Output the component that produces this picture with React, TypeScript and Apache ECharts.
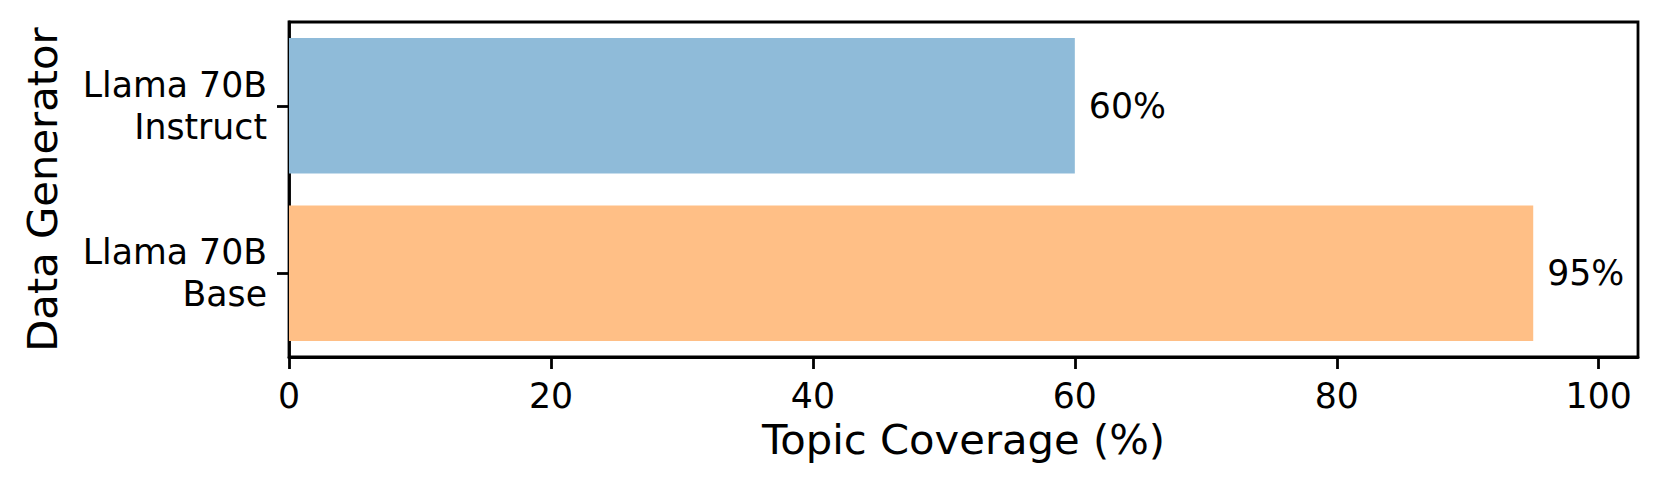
import React, { useEffect, useRef } from "react";
import * as echarts from "echarts";

const categories = ["Llama 70B\nInstruct", "Llama 70B\nBase"];
const coverage = [60, 95];
const barColors = ["#8fbbd9", "#ffbf86"];
const xTicks = [0, 20, 40, 60, 80, 100];
const xLabel = "Topic Coverage (%)";
const yLabel = "Data Generator";

export default function App() {
  const ref = useRef<HTMLDivElement>(null);
  useEffect(() => {
    if (!ref.current) return;
    const chart = echarts.init(ref.current, null, { renderer: "svg" });
    const font = "DejaVu Sans";
    chart.setOption({
      animation: false,
      backgroundColor: "#ffffff",
      textStyle: { fontFamily: font },
      grid: {
        left: 289,
        top: 22,
        right: 23,
        bottom: 132,
        show: true,
        borderColor: "#000",
        borderWidth: 2.8,
        backgroundColor: "transparent",
      },
      xAxis: {
        type: "value",
        min: 0,
        max: 103,
        name: xLabel,
        nameLocation: "middle",
        nameGap: 61,
        nameTextStyle: { fontSize: 41.7, color: "#000", fontFamily: font },
        splitLine: { show: false },
        axisLine: { show: true, lineStyle: { color: "#000", width: 2.8 } },
        axisTick: {
          show: true,
          length: 12,
          lineStyle: { color: "#000", width: 2.8 },
          customValues: xTicks,
        },
        axisLabel: {
          fontSize: 34.7,
          color: "#000",
          margin: 21,
          fontFamily: font,
          customValues: xTicks,
        },
      },
      yAxis: {
        type: "category",
        inverse: true,
        data: categories,
        name: yLabel,
        nameLocation: "middle",
        nameGap: 226,
        nameRotate: 90,
        nameTextStyle: { fontSize: 41.7, color: "#000", fontFamily: font },
        axisLine: { show: true, lineStyle: { color: "#000", width: 2.8 } },
        axisTick: {
          show: true,
          alignWithLabel: true,
          length: 12,
          lineStyle: { color: "#000", width: 2.8 },
        },
        axisLabel: {
          fontSize: 34.7,
          color: "#000",
          margin: 22,
          lineHeight: 41.7,
          align: "right",
          fontFamily: font,
        },
        splitLine: { show: false },
      },
      series: [
        {
          type: "bar",
          barCategoryGap: "19%",
          data: coverage.map((v, i) => ({
            value: v,
            itemStyle: { color: barColors[i] },
          })),
          label: {
            show: true,
            position: "right",
            distance: 14,
            fontSize: 34.7,
            color: "#000",
            fontFamily: font,
            formatter: (p: any) => `${p.value}%`,
          },
        },
      ],
    });
    return () => chart.dispose();
  }, []);
  return (
    <div
      ref={ref}
      style={{ position: "fixed", left: 0, top: 0, width: 1661, height: 489 }}
    />
  );
}
